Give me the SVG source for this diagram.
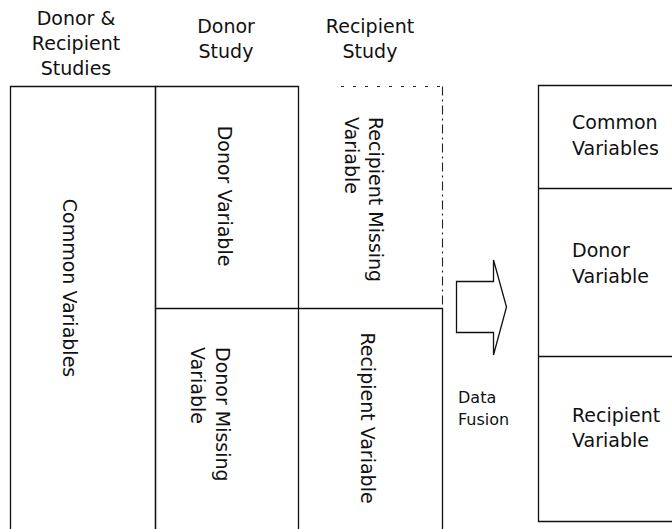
<svg xmlns="http://www.w3.org/2000/svg" width="672" height="529" viewBox="0 0 672 529">
<style>
.ln{stroke:#111;stroke-width:1.3;fill:none}
.dsh{stroke:#222;stroke-width:1.1;fill:none}
.t{font-family:"DejaVu Sans","Liberation Sans",sans-serif;font-size:19px;fill:#111}
.s{font-size:16px}
.m{text-anchor:middle}
</style>
<rect width="672" height="529" fill="#fff"/>
<g id="header-both">
<text class="t m" x="76" y="25">Donor &amp;</text>
<text class="t m" x="76" y="50">Recipient</text>
<text class="t m" x="76" y="75">Studies</text>
</g>
<g id="header-donor">
<text class="t m" x="226" y="33">Donor</text>
<text class="t m" x="226" y="58">Study</text>
</g>
<g id="header-recipient">
<text class="t m" x="370" y="33">Recipient</text>
<text class="t m" x="370" y="58">Study</text>
</g>
<g id="common-variables">
<path class="ln" d="M10.5,530 V86.5 H155.5 V530"/>
<text class="t m" transform="translate(63,288) rotate(90)">Common Variables</text>
</g>
<g id="donor-variable">
<path class="ln" d="M155.5,86.5 H298.5 V308.5 H155.5 Z"/>
<text class="t m" transform="translate(218,196) rotate(90)">Donor Variable</text>
</g>
<g id="donor-missing">
<path class="ln" d="M155.5,308.5 V530 M298.5,308.5 V530"/>
<text class="t" transform="translate(216,347) rotate(90)"><tspan x="0" y="0">Donor Missing</tspan><tspan x="0" y="25">Variable</tspan></text>
</g>
<g id="recipient-missing">
<path class="dsh" d="M341,86.5 H442" stroke-dasharray="3 9"/>
<path class="dsh" d="M442.5,86.5 V308" stroke-dasharray="9 4 2 4"/>
<text class="t" transform="translate(369,117) rotate(90)"><tspan x="0" y="0">Recipient Missing</tspan><tspan x="0" y="24">Variable</tspan></text>
</g>
<g id="recipient-variable">
<path class="ln" d="M298.5,308.5 H442.5 V530"/>
<text class="t m" transform="translate(361,418) rotate(90)">Recipient Variable</text>
</g>
<g id="fused-data">
<path class="ln" d="M673,85.5 H538.5 V521.5 H673 M538.5,188.5 H673 M538.5,356.5 H673"/>
<text class="t" x="572" y="129">Common</text>
<text class="t" x="572" y="155">Variables</text>
<text class="t" x="572" y="257">Donor</text>
<text class="t" x="572" y="283">Variable</text>
<text class="t" x="572" y="422">Recipient</text>
<text class="t" x="572" y="447">Variable</text>
</g>
<g id="connectors">
<polygon class="ln" points="456.5,281.5 493.5,281.5 493.5,260 506.5,307 493.5,355 493.5,332.5 456.5,332.5"/>
<text class="t s" x="458" y="403">Data</text>
<text class="t s" x="458" y="425">Fusion</text>
</g>
</svg>
